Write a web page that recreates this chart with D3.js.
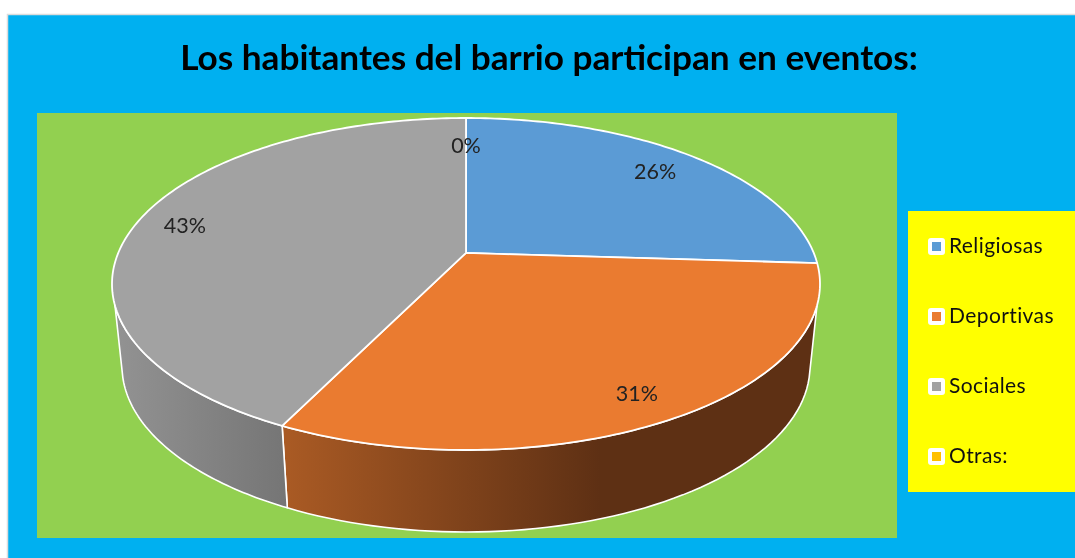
<!DOCTYPE html>
<html lang="es">
<head>
<meta charset="utf-8">
<script src="https://cdn.jsdelivr.net/npm/d3@7"></script>
<style>
html,body{margin:0;padding:0;background:#fff;overflow:hidden}
svg{display:block;filter:blur(0.4px)}
text{font-family:Lato,"Open Sans",sans-serif}
</style>
</head>
<body>
<svg id="chart" width="1075" height="558"></svg>
<script>
const titleText = "Los habitantes del barrio participan en eventos:";
const categories = ["Religiosas", "Deportivas", "Sociales", "Otras:"];
const values = [26, 31.25, 42.75, 0];
const colors = ["#5B9BD5", "#EA7B30", "#A2A2A2", "#FFC000"];

const W = 1075, H = 558;
const svg = d3.select("#chart");

// Perspective of the disc: unit circle -> ellipse, pulling the centre upward
const persp = -0.187;
const rimX = d3.scaleLinear().domain([-1, 1]).range([112, 820]);
const rimY = d3.scaleLinear().domain([-1, 1]).range([118, 450]);
const baseX = d3.scaleLinear().domain([-1, 1]).range([122, 810]);
const baseY = d3.scaleLinear().domain([-1, 1]).range([200, 532]);

function project(angle, r) {
  const u = r * Math.sin(angle), v = -r * Math.cos(angle);
  const d = 1 + persp * v;
  return [u * Math.sqrt(1 - persp * persp) / d, (v + persp) / d];
}
const rimAngle = a => { const p = project(a, 1); return Math.atan2(p[1], p[0]); };

const pie = d3.pie().sort(null).value(d => d)
  .startAngle(0).endAngle(2 * Math.PI);
const arcs = pie(values);
const pct = d3.format(".0%");
const total = d3.sum(values);

// Background panels
svg.append("rect").attr("x", 7.5).attr("y", 14.5).attr("width", W).attr("height", H)
  .attr("fill", "#00B0F0").attr("stroke", "#dcdcdc").attr("stroke-width", 1.5);
svg.append("rect").attr("x", 37).attr("y", 113).attr("width", 860).attr("height", 425).attr("fill", "#92D050");
svg.append("rect").attr("x", 908).attr("y", 211).attr("width", 167).attr("height", 281).attr("fill", "#FFFF00");

// Title
svg.append("text").attr("x", 549).attr("y", 70).attr("text-anchor", "middle")
  .attr("font-size", 35.2).attr("font-weight", 700).attr("fill", "#000").text(titleText);

// Side walls
const defs = svg.append("defs");
const g1 = defs.append("linearGradient").attr("id", "wallOrange").attr("gradientUnits", "userSpaceOnUse")
  .attr("x1", 288).attr("x2", 600).attr("y1", 0).attr("y2", 0);
g1.append("stop").attr("offset", 0).attr("stop-color", "#A95A24");
g1.append("stop").attr("offset", 1).attr("stop-color", "#5E3014");
const g2 = defs.append("linearGradient").attr("id", "wallGrey").attr("gradientUnits", "userSpaceOnUse")
  .attr("x1", 118).attr("x2", 288).attr("y1", 0).attr("y2", 0);
g2.append("stop").attr("offset", 0).attr("stop-color", "#929292");
g2.append("stop").attr("offset", 1).attr("stop-color", "#757575");

const line = d3.line();
const topStart = Math.asin(0.13), baseStart = Math.asin(0.07);
const split = rimAngle(arcs[1].endAngle);
function wall(a0, a1, b0, b1) {
  const top = d3.range(0, 61).map(i => {
    const t = a0 + (a1 - a0) * i / 60;
    return [rimX(Math.cos(t)), rimY(Math.sin(t))];
  });
  const bot = d3.range(0, 61).map(i => {
    const t = b1 + (b0 - b1) * i / 60;
    return [baseX(Math.cos(t)), baseY(Math.sin(t))];
  });
  return line(top.concat(bot)) + "Z";
}
svg.append("path").attr("d", wall(topStart, split, baseStart, split))
  .attr("fill", "url(#wallOrange)").attr("stroke", "#fff").attr("stroke-width", 1.6).attr("stroke-linejoin", "round");
svg.append("path").attr("d", wall(split, Math.PI - topStart, split, Math.PI - baseStart))
  .attr("fill", "url(#wallGrey)").attr("stroke", "#fff").attr("stroke-width", 1.6).attr("stroke-linejoin", "round");

// Top surface slices
function slice(d) {
  const n = Math.max(2, Math.ceil((d.endAngle - d.startAngle) * 60));
  const pts = [[rimX(project(0, 0)[0]), rimY(project(0, 0)[1])]];
  for (let i = 0; i <= n; i++) {
    const p = project(d.startAngle + (d.endAngle - d.startAngle) * i / n, 1);
    pts.push([rimX(p[0]), rimY(p[1])]);
  }
  return line(pts) + "Z";
}
svg.append("g").selectAll("path").data(arcs.filter(d => d.value > 0)).join("path")
  .attr("d", slice).attr("fill", d => colors[d.index])
  .attr("stroke", "#fff").attr("stroke-width", 1.8).attr("stroke-linejoin", "round");

// Data labels
const labelRadius = [0.81, 0.87, 0.86, 0.76];
const labelNudge = [[3, 0], [-6, 1], [0, 3], [0, 0]];
svg.append("g").selectAll("text").data(arcs).join("text")
  .attr("x", d => rimX(project((d.startAngle + d.endAngle) / 2, labelRadius[d.index])[0]) + labelNudge[d.index][0])
  .attr("y", d => rimY(project((d.startAngle + d.endAngle) / 2, labelRadius[d.index])[1]) + 7 + labelNudge[d.index][1])
  .attr("text-anchor", "middle").attr("font-size", 21.5).attr("fill", "#222")
  .text(d => pct(d.value / total));

// Legend
const rowY = d3.scalePoint().domain(categories).range([246.5, 456.5]);
const leg = svg.append("g").selectAll("g").data(categories).join("g")
  .attr("transform", d => `translate(0,${rowY(d)})`);
leg.append("rect").attr("x", 928).attr("y", -8.5).attr("width", 17).attr("height", 17).attr("rx", 3).attr("fill", "#fff");
leg.append("rect").attr("x", 932).attr("y", -4.5).attr("width", 9).attr("height", 9)
  .attr("fill", (d, i) => colors[i]);
leg.append("text").attr("x", 949).attr("y", 6).attr("font-size", 21).attr("letter-spacing", 0.4)
  .attr("fill", "#111").text(d => d);
</script>
</body>
</html>
